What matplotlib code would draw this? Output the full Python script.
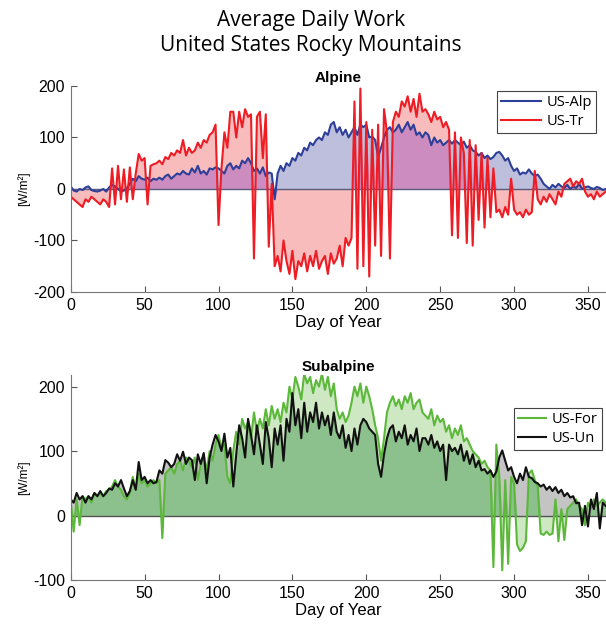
import numpy as np
import matplotlib.pyplot as plt

plt.rcParams['axes.unicode_minus'] = False

# day of year, every second day
days = np.arange(0, 364, 2)

us_alp = [
    5, -3, -5, 0, -2, 3, 5, -2, -4, -5,
    -3, 0, -5, 3, 8, 5, 0, -5, -3, 2,
    10, 20, 15, 25, 20, 18, 22, 15, 20, 18,
    22, 18, 25, 28, 20, 25, 30, 28, 35, 30,
    28, 40, 32, 45, 30, 35, 28, 40, 38, 42,
    40, 35, 30, 45, 50, 38, 45, 40, 55, 50,
    60, 50, 35, 40, 30, 42, 25, 32, 30, -20,
    30, 45, 35, 50, 45, 60, 55, 70, 65, 80,
    75, 90, 85, 95, 100, 95, 110, 105, 125, 130,
    110, 120, 105, 115, 100, 110, 120, 105, 125, 120,
    125, 100, 102, 95, 62, 80, 100, 115, 120, 110,
    115, 125, 110, 120, 130, 115, 125, 105, 110, 100,
    110, 105, 85, 100, 90, 95, 85, 90, 95, 88,
    95, 90, 85, 92, 80, 85, 75, 72, 65, 70,
    60, 65, 58, 62, 70, 72, 65, 55, 60, 45,
    35, 40, 28, 32, 30, 38, 30, 25, 28, 20,
    10, 5, 0, 8, 3, 10, 5, 2, 8, 0,
    5, 2, 10, 0, 3, 5, 2, 0, 4, 2,
    -2, 0,
]

us_tr = [
    -15, -20, -25, -30, -35, -20, -25, -15, -20, -25,
    -30, -20, -25, -35, 40, -30, 45, -20, 38, -25,
    42, -20, 30, 68, 55, 60, -30, 45, 48, 50,
    55, 48, 62, 58, 70, 65, 75, 70, 95, 65,
    80, 70, 75, 90, 80, 95, 90, 105, 110, 125,
    -70, 40, 110, 80, 150, 150, 100, 150, 120, 155,
    140, 145, -135, 140, 150, 60, 145, -112, 10, -150,
    -130, -160, -100, -140, -165, -120, -175, -140, -150, -125,
    -160, -130, -150, -120, -155, -140, -130, -165, -125, -145,
    -135, -110, -150, -95, -110, -95, 170, -155, 195, -150,
    130, -170, 115, -110, 125, -130, 155, 110, -135, 130,
    150, 140, 170, 160, 180, 150, 175, 140, 185, 150,
    155, 145, 130, 150, 135, 140, 120, 130, 115, -90,
    110, -95, 100, 70, -105, 95, -110, 85, -60, 70,
    -75, 60, -55, 40, -45, -40, -55, -35, -50, 20,
    -40, -50, -45, -55, -40, -50, -45, 35, -20, -30,
    -15, -25, -10, -20, -30, -5, -15, 10, 15, 20,
    5, 15, 10, 20, -5, -15, -10, -20, -5, -15,
    -10, -5,
]

us_for = [
    20, -25, 25, -15, 30, 25, 30, 20, 35, 30,
    35, 30, 38, 40, 45, 55, 45, 40, 30, 25,
    35, 60, 40, 65, 50, 55, 45, 50, 55, 50,
    55, -35, 65, 70, 75, 65, 80, 85, 70, 90,
    85, 75, 90, 55, 80, 95, 70, 100, 85, 110,
    125, 105, 110, 60, 50, 100, 130, 110, 150, 135,
    145, 120, 160, 130, 150, 135, 165, 140, 170, 150,
    165, 145, 175, 160, 200, 180, 215, 200, 180, 220,
    205, 215, 190, 210, 200, 220, 195, 215, 185, 205,
    165, 150, 160, 145, 155, 175, 200, 185, 205, 175,
    200, 185, 165, 140, 120, 85, 120, 160, 175, 185,
    170, 180, 165, 185, 175, 190, 165, 175, 180, 160,
    155, 150, 165, 140, 155, 145, 150, 130, 140, 120,
    135, 125, 140, 115, 120, 110, 100, 95, 90, 80,
    85, 75, 70, -80, 110, 60, -85, 55, -75, 60,
    50, -45, -55, -50, -40, 65, 70, 55, 45, -28,
    -30, -25, -30, -28, 25, -40, 10, -38, 10, 15,
    20, 25, 15, 10, -15, 20, 10, 25, 15, 20,
    25, 20,
]

us_un = [
    25, 20, 35, 25, 30, 20, 30, 25, 35, 30,
    38, 30, 35, 42, 40, 50, 45, 55, 42, 30,
    38, 55, 40, 83, 55, 60, 50, 55, 50, 52,
    70, 65, 86, 82, 75, 80, 95, 85, 99, 80,
    90, 86, 55, 95, 80, 97, 50, 90, 110, 125,
    115, 100, 127, 90, 105, 45, 95, 140, 120, 90,
    150, 125, 95, 140, 110, 80, 145, 120, 75, 135,
    110, 140, 85, 150, 130, 190, 140, 165, 120, 175,
    130, 160, 145, 175, 135, 160, 140, 155, 125, 160,
    130, 120, 140, 105, 125, 100, 135, 110, 140, 150,
    145, 135, 130, 125, 80, 60, 95, 120, 135, 140,
    115, 130, 120, 140, 110, 125, 115, 135, 100, 120,
    120, 110, 125, 105, 115, 100, 110, 55, 110, 100,
    105, 95, 110, 85, 100, 80, 95, 75, 85, 70,
    72, 65, 70, 60, 68, 90, 101, 85, 70, 75,
    60, 50, 65, 55, 75, 60, 58, 52, 50, 45,
    48, 40, 45, 38, 44, 35, 40, 30, 35, 28,
    30, 19, 20, -15, 15, -17, 25, 10, 35, -20,
    20, 15,
]

xticks = [0, 50, 100, 150, 200, 250, 300, 350]

tick_font = ['Liberation Sans', 'DejaVu Sans']
text_font = ['Open Sans', 'DejaVu Sans']


def overlap(a, b):
    a = np.asarray(a, float)
    b = np.asarray(b, float)
    both_pos = (a > 0) & (b > 0)
    both_neg = (a < 0) & (b < 0)
    out = np.zeros_like(a)
    out[both_pos] = np.minimum(a, b)[both_pos]
    out[both_neg] = np.maximum(a, b)[both_neg]
    return out


def panel(ax, s1, s2, c1, c2, f1, f2, f12, lab1, lab2, title, ylim, yticks, base, legpos, hlen):
    ax.fill_between(days, 0, s1, color=f1, lw=0, interpolate=True)
    ax.fill_between(days, 0, s2, color=f2, lw=0, interpolate=True)
    ax.fill_between(days, 0, overlap(s1, s2), color=f12, lw=0, interpolate=True)
    ax.axhline(0, color=base, lw=1.0)
    ax.plot(days, s1, color=c1, lw=1.5, label=lab1)
    ax.plot(days, s2, color=c2, lw=1.5, label=lab2)
    ax.set_xlim(0, 362.2)
    ax.set_ylim(*ylim)
    ax.set_xticks(xticks)
    ax.set_yticks(yticks)
    ax.tick_params(direction='in', length=4, color='#555555', labelsize=11.5, pad=4)
    for lbl in ax.get_xticklabels() + ax.get_yticklabels():
        lbl.set_family(tick_font)
    for sp in ['top', 'right']:
        ax.spines[sp].set_visible(False)
    for sp in ['left', 'bottom']:
        ax.spines[sp].set_color('#777777')
        ax.spines[sp].set_linewidth(0.8)
    ax.set_title(title, fontsize=11, fontweight='bold', family=tick_font, pad=3)
    ax.set_xlabel('Day of Year', fontsize=12, family=tick_font, labelpad=2)
    ax.set_ylabel('[W/m²]', fontsize=8.5, family=tick_font, labelpad=2)
    leg = ax.legend(loc='upper left', bbox_to_anchor=legpos, fancybox=False,
                    framealpha=1, edgecolor='#444444', prop={'family': text_font, 'size': 10.5},
                    handlelength=hlen, borderpad=0.3, labelspacing=0.25, handletextpad=0.4,
                    borderaxespad=0)
    leg.get_frame().set_linewidth(0.8)


fig = plt.figure(figsize=(6.06, 6.29), dpi=100)
fig.text(0.513, 0.968, 'Average Daily Work', ha='center', va='center', fontsize=15, family=text_font)
fig.text(0.513, 0.927, 'United States Rocky Mountains', ha='center', va='center', fontsize=15, family=text_font)

ax1 = fig.add_axes([0.1167, 0.5358, 0.8833, 0.3275])
panel(ax1, us_alp, us_tr, '#2e3f99', '#ee1c24', '#bebedd', '#f8bcbc', '#cc8cbf',
      'US-Alp', 'US-Tr', 'Alpine', (-200, 200), [-200, -100, 0, 100, 200], '#5a5a78',
      (0.796, 0.976), 2.7)

ax2 = fig.add_axes([0.1167, 0.0779, 0.8833, 0.3259])
panel(ax2, us_for, us_un, '#5cb83a', '#111111', '#cde8c3', '#c4c4c4', '#8cc08c',
      'US-For', 'US-Un', 'Subalpine', (-100, 218), [-100, 0, 100, 200], '#555555',
      (0.828, 0.839), 1.9)

fig.savefig('out.png', dpi=100)
